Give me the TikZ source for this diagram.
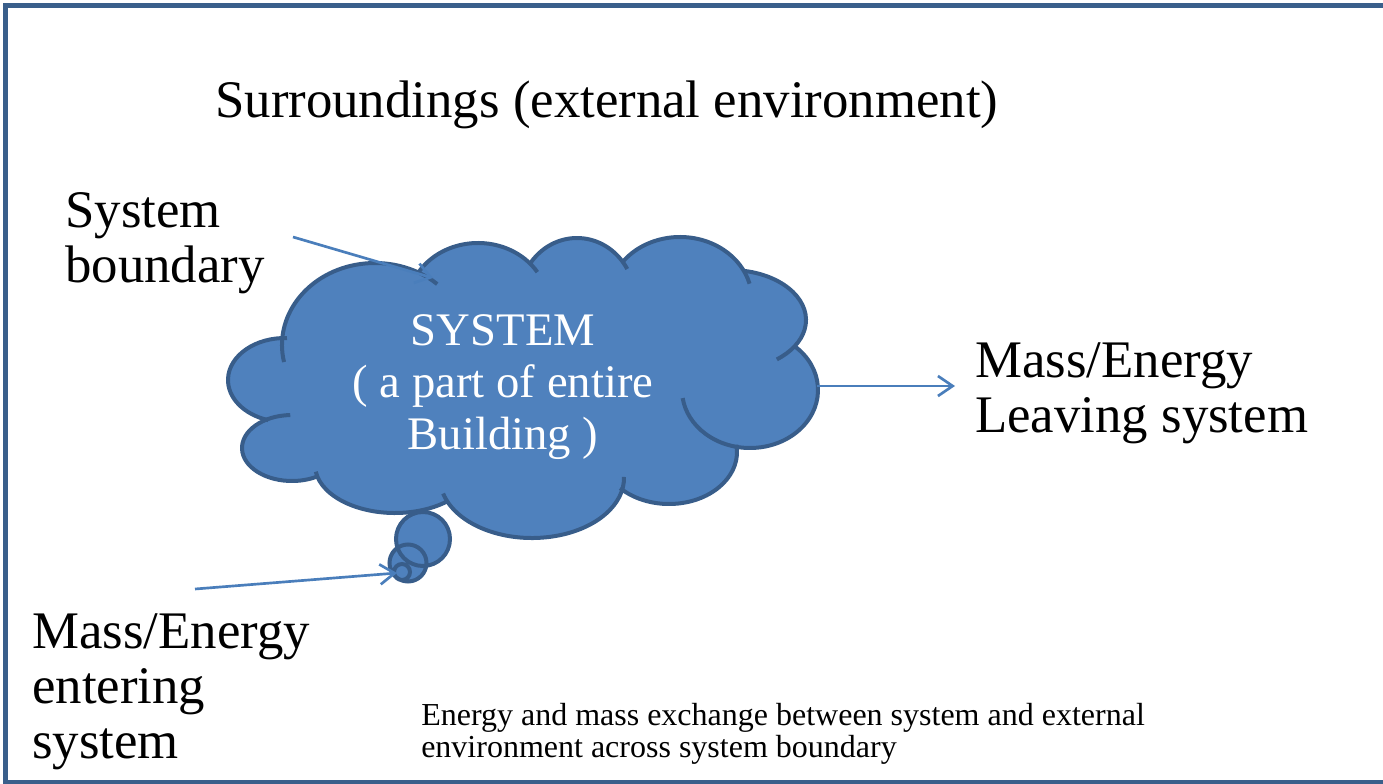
\documentclass[tikz,border=0pt]{standalone}
\usepackage{fontspec}
\setmainfont{Liberation Serif}
\usetikzlibrary{arrows.meta,positioning}

\definecolor{framecol}{RGB}{58,95,139}
\definecolor{cloudfill}{RGB}{79,129,189}
\definecolor{cloudline}{RGB}{56,93,138}
\definecolor{flowcol}{RGB}{74,126,187}

\begin{document}
\begin{tikzpicture}[x=0.75pt, y=-0.75pt,
    lbl/.style={inner sep=0pt, align=left, font=\fontsize{39.6}{41}\selectfont},
    inlbl/.style={inner sep=0pt, align=center, text=white, font=\fontsize{35}{39}\selectfont},
    note/.style={inner sep=0pt, align=left, font=\fontsize{24}{24}\selectfont},
    rim/.style={draw=cloudline, line width=3pt},
    puff/.style={fill=cloudfill},
    flow/.style={-{Straight Barb[length=11pt,width=15pt]}, draw=flowcol, line width=2pt}
  ]
    \useasboundingbox (0,0) rectangle (1383,784);
    \clip (0,0) rectangle (1383,784);
    \draw[framecol, line width=3.75pt] (5.5,5.5) rectangle (1400,782);

    % cloud: lobes cx/cy/rx/ry/start/end
    \foreach \cx/\cy/\rx/\ry/\sa/\ea in {375/345/93/82/168/312, 478/305/70/62/212/328,
        577/300/58/62/217/330, 680/300/72/63/217/345, 730/320/76/50/281/412,
        750/390/68/58/311/532, 669/452/68/52/-8/136, 532/478/92/60/165/-1,
        395/465/80/48/172/48, 292/448/50/33/268/58, 285/380/57/42/272/107}
      \fill[puff] (\cx,\cy) ellipse[x radius=\rx, y radius=\ry];
    \fill[puff] (283,338) -- (419,272) -- (530,264) -- (623,262) -- (744,271)
      -- (795,346) -- (737,448) -- (620,488) -- (448,501) -- (318,477) -- (268,420) -- cycle;
    \foreach \cx/\cy/\rx/\ry/\sa/\ea in {375/345/93/82/168/312, 478/305/70/62/212/328,
        577/300/58/62/217/330, 680/300/72/63/217/345, 730/320/76/50/281/412,
        750/390/68/58/311/532, 669/452/68/52/-8/136, 532/478/92/60/165/-1,
        395/465/80/48/172/48, 292/448/50/33/268/58, 285/380/57/42/272/107}
      \draw[rim] (\cx,\cy) ++(\sa:{\rx} and {\ry}) arc[start angle=\sa, end angle=\ea, x radius=\rx, y radius=\ry];

    % thought bubbles
    \fill[puff] (423,539) circle[radius=27] (408,563) circle[radius=18.5] (402,572) circle[radius=8];
    \draw[rim] (423,539) circle[radius=27] (408,563) circle[radius=18.5] (402,572) circle[radius=8];

    % texts (base = last line)
    \node[lbl, anchor=base west] (title) at (215,118) {Surroundings (external environment)};
    \node[lbl, anchor=base west] (sysLbl) at (65,282) {System\\boundary};
    \node[lbl, anchor=base west] (leaveLbl) at (975,432) {Mass/Energy\\Leaving system};
    \node[lbl, anchor=base west] (enterLbl) at (32,758) {Mass/Energy\\entering\\system};
    \node[inlbl, anchor=base] (sysTxt) at (503,449) {SYSTEM\\( a part of entire\\Building )};
    \node[note, anchor=base west] (note) at (421,757) {Energy and mass exchange between system and external\\environment across system boundary};

    % arrow ends
    \coordinate (sysTail) at (293,237);
    \coordinate (rimTop) at (433,278);
    \coordinate (rimRight) at (817,386);
    \coordinate (leaveHead) at (955,386);
    \coordinate (enterTail) at (195,589);
    \coordinate (bubbleEnd) at (397,573);

    \draw[flow] (sysTail) -- (rimTop);
    \draw[flow] (rimRight) -- (leaveHead);
    \draw[flow] (enterTail) -- (bubbleEnd);
\end{tikzpicture}
\end{document}
